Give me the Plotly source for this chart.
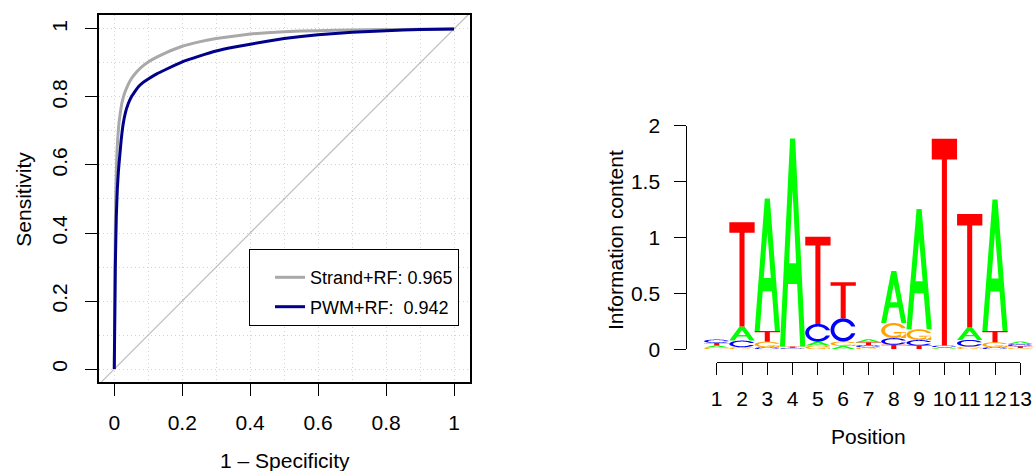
import numpy as np
import plotly.graph_objects as go

W, H = 1034, 471

# ---------------- ROC data ----------------
strand_fpr = [0, 0.002, 0.004, 0.006, 0.008, 0.011, 0.014, 0.018, 0.023, 0.03, 0.04, 0.051, 0.065,
              0.08, 0.1, 0.125, 0.15, 0.2, 0.25, 0.3, 0.4, 0.5, 0.6, 0.7, 0.8, 0.9, 1.0]
strand_tpr = [0, 0.30, 0.50, 0.58, 0.64, 0.69, 0.725, 0.755, 0.785, 0.81, 0.835, 0.855, 0.873,
              0.888, 0.903, 0.917, 0.929, 0.949, 0.962, 0.972, 0.985, 0.992, 0.995, 0.997, 0.998, 0.999, 1.0]
pwm_fpr = [0, 0.003, 0.006, 0.009, 0.012, 0.015, 0.02, 0.026, 0.033, 0.041, 0.05, 0.06, 0.071,
           0.085, 0.1, 0.125, 0.15, 0.2, 0.25, 0.3, 0.35, 0.4, 0.5, 0.6, 0.7, 0.8, 0.9, 1.0]
pwm_tpr = [0, 0.30, 0.45, 0.53, 0.58, 0.615, 0.67, 0.72, 0.755, 0.78, 0.80, 0.815, 0.83,
           0.843, 0.853, 0.868, 0.88, 0.903, 0.92, 0.935, 0.946, 0.955, 0.972, 0.983, 0.99, 0.995, 0.998, 1.0]
roc_names = ["Strand+RF: 0.965", "PWM+RF:\u00a0 0.942"]
roc_ticks = [0, 0.2, 0.4, 0.6, 0.8, 1]
roc_ticktext = ["0", "0.2", "0.4", "0.6", "0.8", "1"]

# ---------------- Sequence logo data ----------------
positions = list(range(1, 14))
bases = ["A", "C", "G", "T"]
height_A = [0.020, 0.125, 1.186, 1.860, 0.035, 0.030, 0.028, 0.465, 1.076, 0.010, 0.110, 1.178, 0.023]
height_C = [0.030, 0.060, 0.018, 0.008, 0.159, 0.207, 0.020, 0.060, 0.050, 0.015, 0.060, 0.018, 0.020]
height_G = [0.015, 0.018, 0.050, 0.005, 0.033, 0.040, 0.018, 0.135, 0.096, 0.008, 0.024, 0.045, 0.012]
height_T = [0.022, 0.933, 0.095, 0.012, 0.780, 0.323, 0.024, 0.040, 0.033, 1.850, 1.016, 0.100, 0.015]
logo_yticks = [0, 0.5, 1, 1.5, 2]
logo_yticktext = ["0", "0.5", "1", "1.5", "2"]
base_colors = {"A": "#00FF00", "C": "#0000FF", "G": "#FFA500", "T": "#FF0000"}

FONT = "Liberation Sans, Arial, Helvetica, sans-serif"

# ---------------- glyph outlines (unit square) ----------------
def glyph_C():
    a1 = np.linspace(0.3 + np.pi / 2, np.pi, 100)
    a2 = np.linspace(np.pi, 1.5 * np.pi, 100)
    xl1, yl1 = 0.5 + 0.5 * np.sin(a1), 0.5 + 0.5 * np.cos(a1)
    xl2, yl2 = 0.5 + 0.5 * np.sin(a2), 0.5 + 0.5 * np.cos(a2)
    xl, yl = np.concatenate([xl1, xl2]), np.concatenate([yl1, yl2])
    x = np.concatenate([xl, xl[::-1]])
    y = np.concatenate([yl, 1 - yl[::-1]])
    xi1, yi1 = 0.5 + 0.35 * np.sin(a1), 0.5 + 0.35 * np.cos(a1)
    m = yi1 <= yl1.max()
    xi1, yi1 = xi1[m], yi1[m].copy()
    yi1[0] = yl1.max()
    xi2, yi2 = 0.5 + 0.35 * np.sin(a2), 0.5 + 0.35 * np.cos(a2)
    xi, yi = np.concatenate([xi1, xi2]), np.concatenate([yi1, yi2])
    x1 = np.concatenate([xi, xi[::-1]])
    y1 = np.concatenate([yi, 1 - yi[::-1]])
    X = np.concatenate([x, x1[::-1]])
    Y = np.concatenate([y, y1[::-1]])
    return [(X, Y)], float(xl1.max())


def glyphs():
    cpolys, r1 = glyph_C()
    h1 = 0.4
    g_add = (np.array([r1, 0.5, 0.5, r1 - 0.2, r1 - 0.2, r1, r1]),
             np.array([h1, h1, h1 - 0.1, h1 - 0.1, 0, 0, h1]))
    return {
        "A": [(np.array([0, 4, 6, 10, 8, 6.8, 3.2, 2, 0]) / 10, np.array([0, 10, 10, 0, 0, 3, 3, 0, 0]) / 10),
              (np.array([3.6, 5, 6.4, 3.6]) / 10, np.array([4, 7.5, 4, 4]) / 10)],
        "T": [(np.array([0, 10, 10, 6, 6, 4, 4, 0]) / 10, np.array([10, 10, 9, 9, 0, 0, 9, 9]) / 10)],
        "C": cpolys,
        "G": cpolys + [g_add],
    }


GLYPHS = glyphs()


def glyph_path(base, x0, y0, w, h):
    parts = []
    for gx, gy in GLYPHS[base]:
        px = x0 + w * gx
        py = y0 + h * gy
        seg = "M" + " L".join(f"{a:.4f},{b:.5f}" for a, b in zip(px, py)) + " Z"
        parts.append(seg)
    return " ".join(parts)


def px2fx(p):
    return p / W


def py2fy(p):
    return 1 - p / H


fig = go.Figure()

# ---------------- left: ROC ----------------
xr = [-0.045, 1.047]
yr = [-0.039, 1.041]
fig.add_trace(go.Scatter(x=[min(xr[0], yr[0]) - 0.1, max(xr[1], yr[1]) + 0.1],
                         y=[min(xr[0], yr[0]) - 0.1, max(xr[1], yr[1]) + 0.1],
                         mode="lines", line=dict(color="#BEBEBE", width=1.2),
                         showlegend=False, hoverinfo="skip", xaxis="x", yaxis="y"))
fig.add_trace(go.Scatter(x=strand_fpr, y=strand_tpr, mode="lines", name=roc_names[0],
                         line=dict(color="#A9A9A9", width=3, shape="spline", smoothing=0.3),
                         legendgroup="a", xaxis="x", yaxis="y"))
fig.add_trace(go.Scatter(x=pwm_fpr, y=pwm_tpr, mode="lines", name=roc_names[1],
                         line=dict(color="#00008B", width=3, shape="spline", smoothing=0.3),
                         legendgroup="b", xaxis="x", yaxis="y"))

grid = dict(showgrid=True, gridcolor="#D3D3D3", gridwidth=1, griddash="1px,3px")
fig.update_layout(
    xaxis=dict(domain=[px2fx(99), px2fx(470)], range=xr, anchor="y", automargin=False,
               tickmode="array", tickvals=roc_ticks, ticktext=roc_ticktext,
               ticks="outside", ticklen=12, tickcolor="black", tickwidth=1,
               showline=True, linecolor="black", linewidth=1.5, mirror=True,
               zeroline=False, ticklabelstandoff=9,
               tickfont=dict(family=FONT, size=21, color="black"),
               minor=dict(tickmode="array", tickvals=[0.1, 0.3, 0.5, 0.7, 0.9], ticks="", **grid),
               **grid),
    yaxis=dict(domain=[py2fy(382.3), py2fy(15)], range=yr, anchor="x", automargin=False,
               tickmode="array", tickvals=roc_ticks, ticktext=roc_ticktext, tickangle=-90,
               ticks="outside", ticklen=12, tickcolor="black", tickwidth=1,
               showline=True, linecolor="black", linewidth=1.5, mirror=True,
               zeroline=False, ticklabelstandoff=10,
               tickfont=dict(family=FONT, size=21, color="black"),
               minor=dict(tickmode="array", tickvals=[0.1, 0.3, 0.5, 0.7, 0.9], ticks="", **grid),
               **grid),
)

# ---------------- right: sequence logo ----------------
heights = {"A": height_A, "C": height_C, "G": height_G, "T": height_T}
shapes = []
for i, pos in enumerate(positions):
    col = sorted(bases, key=lambda b: heights[b][i])
    base_y = 0.0
    for b in col:
        h = heights[b][i]
        shapes.append(dict(type="path", xref="x2", yref="y2",
                           path=glyph_path(b, pos - 0.5, base_y, 1.0, h),
                           fillcolor=base_colors[b], line=dict(width=0),
                           fillrule="evenodd", layer="above"))
        base_y += h

fig.add_trace(go.Scatter(x=[positions[0], positions[-1]], y=[0, 0], mode="lines",
                         line=dict(width=0), opacity=0, showlegend=False, hoverinfo="skip",
                         xaxis="x2", yaxis="y2"))
fig.add_trace(go.Scatter(x=[positions[0], positions[-1]], y=[0, 0], mode="lines",
                         line=dict(width=0), opacity=0, showlegend=False, hoverinfo="skip",
                         xaxis="x3", yaxis="y3"))

step = (1020.3 - 716.7) / (positions[-1] - positions[0])
x2_left = positions[0] - (716.7 - 687.3) / step
x2_right = positions[-1] + (W - 1020.3) / step
fig.update_layout(
    xaxis2=dict(domain=[px2fx(687.3), 1.0], range=[x2_left, x2_right], anchor="y2", automargin=False,
                showgrid=False, zeroline=False, showline=False, showticklabels=False, ticks=""),
    yaxis2=dict(domain=[py2fy(349.3), py2fy(125.7)], range=[0, 2], anchor="x2", automargin=False,
                tickmode="array", tickvals=logo_yticks, ticktext=logo_yticktext,
                ticks="outside", ticklen=12, tickcolor="black", tickwidth=1,
                showline=True, linecolor="black", linewidth=1, showgrid=False, zeroline=False,
                ticklabelstandoff=10,
                tickfont=dict(family=FONT, size=21, color="black")),
    xaxis3=dict(domain=[px2fx(716.7), px2fx(1020.3)], range=[positions[0], positions[-1]], anchor="y3",
                automargin=False,
                tickmode="array", tickvals=positions, ticktext=[str(p) for p in positions],
                tickangle=0,
                ticks="outside", ticklen=12, tickcolor="black", tickwidth=1,
                showline=True, linecolor="black", linewidth=1, showgrid=False, zeroline=False,
                ticklabelstandoff=6,
                tickfont=dict(family=FONT, size=21, color="black")),
    yaxis3=dict(domain=[py2fy(361.7), py2fy(355)], range=[0, 1], anchor="x3", visible=False,
                automargin=False),
    shapes=shapes,
)

# ---------------- titles ----------------
ann_font = dict(family=FONT, size=21, color="black")
fig.update_layout(annotations=[
    dict(text="1 \u2013 Specificity", x=px2fx(284.5), y=py2fy(460), xref="paper", yref="paper",
         showarrow=False, font=ann_font, xanchor="center", yanchor="middle"),
    dict(text="Sensitivity", x=px2fx(22.7), y=py2fy(199), xref="paper", yref="paper",
         showarrow=False, font=ann_font, textangle=-90, xanchor="center", yanchor="middle"),
    dict(text="Information content", x=px2fx(615), y=py2fy(240), xref="paper", yref="paper",
         showarrow=False, font=ann_font, textangle=-90, xanchor="center", yanchor="middle"),
    dict(text="Position", x=px2fx(868), y=py2fy(436), xref="paper", yref="paper",
         showarrow=False, font=ann_font, xanchor="center", yanchor="middle"),
])

fig.update_layout(
    template="none",
    width=W, height=H, margin=dict(l=0, r=0, t=0, b=0, pad=0, autoexpand=False),
    paper_bgcolor="white", plot_bgcolor="white",
    legend=dict(x=px2fx(459), y=py2fy(249), xanchor="right", yanchor="top",
                bordercolor="black", borderwidth=1, bgcolor="white",
                font=dict(family=FONT, size=18, color="black"),
                title=dict(text="\u00a0", font=dict(family=FONT, size=7)),
                tracegroupgap=3, indentation=20, itemwidth=30),
)

fig.write_html("out.html",
               post_script="document.body.style.margin='0';document.body.style.padding='0';"
                           "document.documentElement.style.overflow='hidden';")
